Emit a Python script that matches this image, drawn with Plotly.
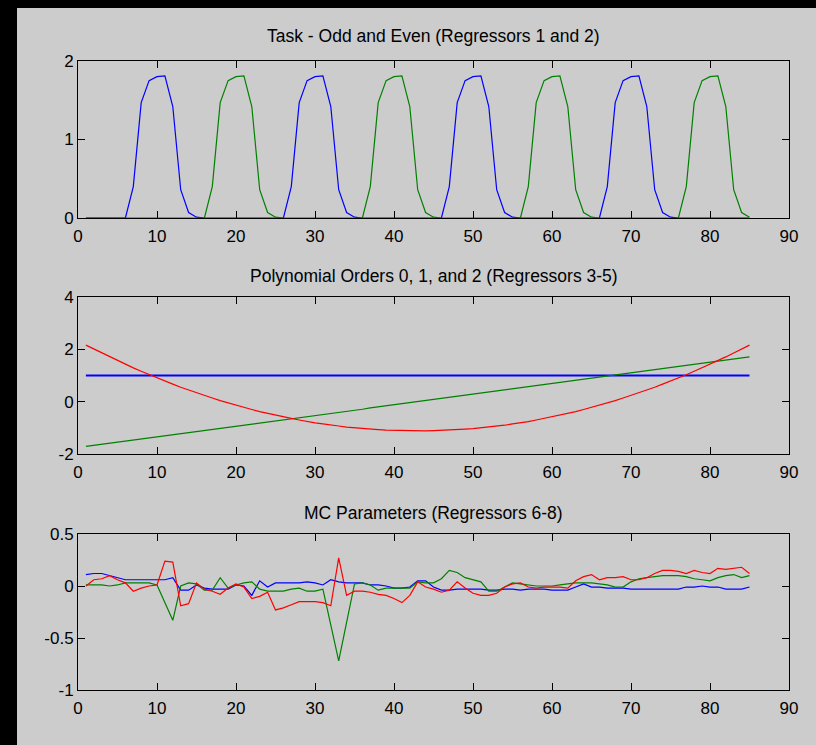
import plotly.graph_objects as go

# ---------------- data ----------------
x = list(range(1, 86))

# Task regressors (top panel)
task_odd = [0, 0, 0, 0, 0,
            0, 0.40, 1.47, 1.75, 1.80, 1.81, 1.42, 0.36, 0.07, 0.01,
            0, 0, 0, 0, 0, 0, 0, 0, 0, 0,
            0, 0.40, 1.47, 1.75, 1.80, 1.81, 1.42, 0.36, 0.07, 0.01,
            0, 0, 0, 0, 0, 0, 0, 0, 0, 0,
            0, 0.40, 1.47, 1.75, 1.80, 1.81, 1.42, 0.36, 0.07, 0.01,
            0, 0, 0, 0, 0, 0, 0, 0, 0, 0,
            0, 0.40, 1.47, 1.75, 1.80, 1.81, 1.42, 0.36, 0.07, 0.01,
            0, 0, 0, 0, 0, 0, 0, 0, 0, 0]
task_even = [0, 0, 0, 0, 0, 0, 0, 0, 0, 0, 0, 0, 0, 0, 0,
             0, 0.40, 1.47, 1.75, 1.80, 1.81, 1.42, 0.36, 0.07, 0.01,
             0, 0, 0, 0, 0, 0, 0, 0, 0, 0,
             0, 0.40, 1.47, 1.75, 1.80, 1.81, 1.42, 0.36, 0.07, 0.01,
             0, 0, 0, 0, 0, 0, 0, 0, 0, 0,
             0, 0.40, 1.47, 1.75, 1.80, 1.81, 1.42, 0.36, 0.07, 0.01,
             0, 0, 0, 0, 0, 0, 0, 0, 0, 0,
             0, 0.40, 1.47, 1.75, 1.80, 1.81, 1.42, 0.36, 0.07, 0.01]

# Polynomial regressors (middle panel)
poly0 = [1.0, 1.0, 1.0, 1.0, 1.0, 1.0, 1.0, 1.0, 1.0, 1.0,
         1.0, 1.0, 1.0, 1.0, 1.0, 1.0, 1.0, 1.0, 1.0, 1.0,
         1.0, 1.0, 1.0, 1.0, 1.0, 1.0, 1.0, 1.0, 1.0, 1.0,
         1.0, 1.0, 1.0, 1.0, 1.0, 1.0, 1.0, 1.0, 1.0, 1.0,
         1.0, 1.0, 1.0, 1.0, 1.0, 1.0, 1.0, 1.0, 1.0, 1.0,
         1.0, 1.0, 1.0, 1.0, 1.0, 1.0, 1.0, 1.0, 1.0, 1.0,
         1.0, 1.0, 1.0, 1.0, 1.0, 1.0, 1.0, 1.0, 1.0, 1.0,
         1.0, 1.0, 1.0, 1.0, 1.0, 1.0, 1.0, 1.0, 1.0, 1.0,
         1.0, 1.0, 1.0, 1.0, 1.0]
poly1 = [-1.71, -1.67, -1.63, -1.59, -1.55, -1.51, -1.47, -1.43, -1.38, -1.34,
         -1.30, -1.26, -1.22, -1.18, -1.14, -1.10, -1.06, -1.02, -0.98, -0.94,
         -0.90, -0.86, -0.81, -0.77, -0.73, -0.69, -0.65, -0.61, -0.57, -0.53,
         -0.49, -0.45, -0.41, -0.37, -0.33, -0.29, -0.24, -0.20, -0.16, -0.12,
         -0.08, -0.04, 0.00, 0.04, 0.08, 0.12, 0.16, 0.20, 0.24, 0.29,
         0.33, 0.37, 0.41, 0.45, 0.49, 0.53, 0.57, 0.61, 0.65, 0.69,
         0.73, 0.77, 0.81, 0.86, 0.90, 0.94, 0.98, 1.02, 1.06, 1.10,
         1.14, 1.18, 1.22, 1.26, 1.30, 1.34, 1.38, 1.43, 1.47, 1.51,
         1.55, 1.59, 1.63, 1.67, 1.71]
poly2 = [2.16, 2.01, 1.86, 1.71, 1.57, 1.43, 1.29, 1.16, 1.03, 0.91,
         0.78, 0.67, 0.55, 0.44, 0.34, 0.24, 0.14, 0.04, -0.05, -0.14,
         -0.22, -0.30, -0.38, -0.45, -0.52, -0.58, -0.64, -0.70, -0.76, -0.81,
         -0.85, -0.90, -0.93, -0.97, -1.00, -1.03, -1.05, -1.07, -1.09, -1.10,
         -1.11, -1.12, -1.12, -1.12, -1.11, -1.10, -1.09, -1.07, -1.05, -1.03,
         -1.00, -0.97, -0.93, -0.90, -0.85, -0.81, -0.76, -0.70, -0.64, -0.58,
         -0.52, -0.45, -0.38, -0.30, -0.22, -0.14, -0.05, 0.04, 0.14, 0.24,
         0.34, 0.44, 0.55, 0.67, 0.78, 0.91, 1.03, 1.16, 1.29, 1.43,
         1.57, 1.71, 1.86, 2.01, 2.16]

# Motion-correction parameters (bottom panel)
mc6 = [0.11, 0.12, 0.12, 0.10, 0.08, 0.06, 0.06, 0.06, 0.06, 0.06,
       0.06, 0.08, -0.04, -0.04, 0.01, -0.02, -0.03, -0.03, -0.03, 0.01,
       0.00, -0.09, 0.05, -0.01, 0.03, 0.03, 0.03, 0.03, 0.04, 0.03,
       0.01, 0.06, 0.04, 0.03, 0.03, 0.03, 0.01, 0.01, 0.00, -0.02,
       -0.02, -0.01, 0.05, 0.05, -0.01, -0.04, -0.04, -0.03, -0.03, -0.03,
       -0.03, -0.04, -0.04, -0.03, -0.03, -0.04, -0.03, -0.03, -0.03, -0.04,
       -0.04, -0.04, -0.01, 0.02, -0.01, -0.01, -0.02, -0.02, -0.02, -0.03,
       -0.03, -0.03, -0.03, -0.03, -0.03, -0.03, -0.01, -0.01, 0.00, -0.01,
       -0.01, -0.03, -0.03, -0.03, -0.01]
mc7 = [0.01, 0.01, 0.01, 0.00, 0.01, 0.03, 0.03, 0.03, 0.03, 0.01,
       -0.16, -0.33, 0.00, 0.03, 0.02, -0.04, -0.04, 0.08, -0.02, 0.01,
       0.03, 0.04, -0.03, -0.05, -0.05, -0.05, -0.03, -0.02, -0.05, -0.05,
       -0.03, -0.37, -0.72, -0.35, 0.02, 0.03, 0.01, -0.04, -0.02, -0.02,
       -0.02, -0.02, 0.04, 0.03, 0.03, 0.07, 0.15, 0.13, 0.08, 0.06,
       0.04, -0.05, -0.05, -0.01, 0.03, 0.02, 0.01, 0.00, 0.00, 0.00,
       0.01, 0.02, 0.03, 0.03, 0.03, 0.02, 0.01, -0.01, -0.01, 0.04,
       0.07, 0.08, 0.09, 0.10, 0.10, 0.10, 0.09, 0.07, 0.06, 0.05,
       0.08, 0.10, 0.11, 0.08, 0.10]
mc8 = [0.00, 0.06, 0.07, 0.10, 0.06, 0.03, -0.05, -0.02, 0.00, 0.01,
       0.24, 0.23, -0.19, -0.17, 0.03, -0.03, -0.05, -0.08, -0.02, 0.02,
       -0.01, -0.12, -0.10, -0.06, -0.23, -0.21, -0.18, -0.15, -0.15, -0.15,
       -0.16, -0.19, 0.27, -0.09, -0.05, -0.05, -0.06, -0.08, -0.09, -0.12,
       -0.16, -0.09, 0.04, -0.01, -0.03, -0.06, -0.04, 0.04, -0.02, -0.07,
       -0.09, -0.09, -0.07, -0.01, 0.02, 0.03, -0.01, -0.02, -0.01, -0.01,
       -0.01, -0.02, 0.05, 0.09, 0.11, 0.06, 0.08, 0.08, 0.09, 0.06,
       0.06, 0.08, 0.12, 0.15, 0.15, 0.14, 0.12, 0.15, 0.13, 0.12,
       0.17, 0.16, 0.17, 0.18, 0.12]

titles = ["Task - Odd and Even (Regressors 1 and 2)",
          "Polynomial Orders 0, 1, and 2 (Regressors 3-5)",
          "MC Parameters (Regressors 6-8)"]

x_ticks = [0, 10, 20, 30, 40, 50, 60, 70, 80, 90]
x_tick_labels = ["0", "10", "20", "30", "40", "50", "60", "70", "80", "90"]
y1_ticks = [0, 1, 2]
y1_labels = ["0", "1", "2"]
y2_ticks = [-2, 0, 2, 4]
y2_labels = ["-2", "0", "2", "4"]
y3_ticks = [-1, -0.5, 0, 0.5]
y3_labels = ["-1", "-0.5", "0", "0.5"]

# ---------------- figure ----------------
W, H = 816, 745
BLUE, GREEN, RED = "#0000ff", "#008000", "#ff0000"
FONT = dict(family="Liberation Sans, Arial, sans-serif", size=17, color="black")
TITLE_FONT = dict(family="Liberation Sans, Arial, sans-serif", size=17.5, color="black")

fig = go.Figure()

panels = [
    ([task_odd, task_even], [BLUE, GREEN], [1.2, 1.2], "x", "y"),
    ([poly0, poly1, poly2], [BLUE, GREEN, RED], [2.0, 1.2, 1.2], "x2", "y2"),
    ([mc6, mc7, mc8], [BLUE, GREEN, RED], [1.2, 1.2, 1.2], "x3", "y3"),
]
for series, colors, widths, xa, ya in panels:
    for s, c, w in zip(series, colors, widths):
        fig.add_trace(go.Scatter(x=x, y=s, mode="lines", xaxis=xa, yaxis=ya,
                                 line=dict(color=c, width=w),
                                 showlegend=False, hoverinfo="skip"))

# pixel geometry of the three axes boxes
left_px, right_px = 78, 789
boxes = [(61, 218), (297, 454), (534, 690)]
title_y_px = [36, 276, 513]
ydefs = [([0, 2], y1_ticks, y1_labels),
         ([-2, 4], y2_ticks, y2_labels),
         ([-1, 0.5], y3_ticks, y3_labels)]

axis_common = dict(showline=True, linecolor="black", linewidth=1, mirror="ticks",
                   ticks="inside", ticklen=7, tickcolor="black", tickwidth=1,
                   showgrid=False, zeroline=False, tickfont=FONT, automargin=False)

layout = dict(width=W, height=H, margin=dict(l=0, r=0, t=0, b=0),
              paper_bgcolor="black", plot_bgcolor="white", showlegend=False)

for i, ((top, bot), (yr, yt, yl)) in enumerate(zip(boxes, ydefs)):
    suffix = "" if i == 0 else str(i + 1)
    layout["xaxis" + suffix] = dict(domain=[left_px / W, right_px / W], range=[0, 90],
                                    tickvals=x_ticks, ticktext=x_tick_labels,
                                    ticklabelstandoff=3,
                                    anchor="y" + suffix, **axis_common)
    layout["yaxis" + suffix] = dict(domain=[1 - bot / H, 1 - top / H], range=yr,
                                    tickvals=yt, ticktext=yl,
                                    anchor="x" + suffix, **axis_common)

fig.update_layout(**layout)

# gray figure background (with black strip at left and top)
fig.add_shape(type="rect", xref="paper", yref="paper", x0=17 / W, x1=1, y0=0, y1=1 - 8 / H,
              fillcolor="#cccccc", line=dict(width=0), layer="below")

# panel titles
for ty, t in zip(title_y_px, titles):
    fig.add_annotation(text=t, xref="paper", yref="paper",
                       x=(left_px + right_px) / 2 / W, y=1 - ty / H,
                       xanchor="center", yanchor="middle", showarrow=False, font=TITLE_FONT)

fig.write_html("out.html", config={"displayModeBar": False},
               post_script="document.body.style.margin='0px';document.body.style.background='black';")
